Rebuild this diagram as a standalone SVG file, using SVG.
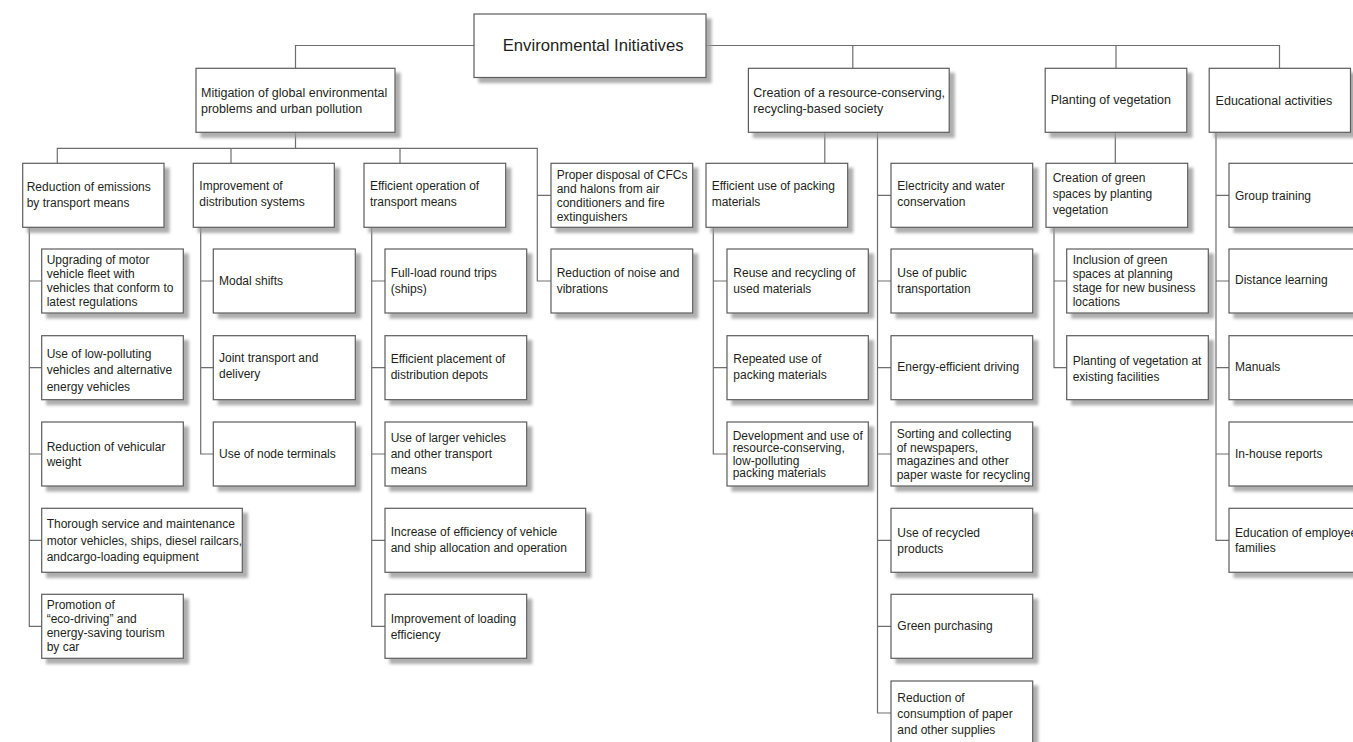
<svg xmlns="http://www.w3.org/2000/svg" width="1353" height="742" viewBox="0 0 1353 742">
  <defs>
    <filter id="sh" x="-10%" y="-10%" width="130%" height="140%">
      <feDropShadow dx="5" dy="5" stdDeviation="1.6" flood-color="#9a9a9a" flood-opacity="0.8"/>
    </filter>
  </defs>
  <style>
    .node rect { fill: #ffffff; stroke: #5c5c5c; stroke-width: 1.2; filter: url(#sh); }
    .node text { font-family: "Liberation Sans", Arial, sans-serif; font-size: 12px; fill: #231f20; }
    .node text.l1 { font-size: 12.5px; }
    .node text.root { font-size: 16.7px; }
    .links path { fill: none; stroke: #6e6e6e; stroke-width: 1.2; }
  </style>
  <rect width="1353" height="742" fill="#ffffff"/>

  <!-- connectors -->
  <g class="links">
    <!-- root to level 1 -->
    <path d="M474 45.5 H295.5 V68.3"/>
    <path d="M706 45.5 H1279.5 V68.3 M852.8 45.5 V68.3 M1116 45.5 V68.3"/>
    <!-- mitigation to its groups -->
    <path d="M295.5 132.3 V148.3 M57.3 163.3 V148.3 H537.3 V281 H551 M231 148.3 V163.3 M400 148.3 V163.3 M537.3 195.3 H551"/>
    <!-- reduction of emissions -->
    <path d="M29.3 227.3 V626.3 H41.7 M29.3 281 H41.7 M29.3 367.7 H41.7 M29.3 454 H41.7 M29.3 540.3 H41.7"/>
    <!-- distribution systems -->
    <path d="M200.7 227.3 V454 H213.3 M200.7 281 H213.3 M200.7 367.7 H213.3"/>
    <!-- efficient operation -->
    <path d="M371.7 227.3 V626.3 H385 M371.7 281 H385 M371.7 367.7 H385 M371.7 454 H385 M371.7 540.3 H385"/>
    <!-- resource-conserving society -->
    <path d="M824.8 132.3 V163.3"/>
    <path d="M877.5 132.3 V713 H891 M877.5 195.3 H891 M877.5 281 H891 M877.5 367.7 H891 M877.5 454 H891 M877.5 540.3 H891 M877.5 626.3 H891"/>
    <!-- packing materials -->
    <path d="M713.3 227.3 V454 H727 M713.3 281 H727 M713.3 367.7 H727"/>
    <!-- vegetation -->
    <path d="M1115.3 132.3 V163.3"/>
    <path d="M1054 227.3 V367.7 H1066.7 M1054 281 H1066.7"/>
    <!-- educational activities -->
    <path d="M1216 132.3 V540.3 H1229 M1216 195.3 H1229 M1216 281 H1229 M1216 367.7 H1229 M1216 454 H1229"/>
  </g>

  <!-- root -->
  <g id="root" class="node">
    <rect x="474" y="14" width="232" height="63.5"/>
    <text class="root" x="502.7" y="50.5">Environmental Initiatives</text>
  </g>

  <!-- level 1 -->
  <g id="mitigation" class="node">
    <rect x="196" y="68.3" width="199" height="64"/>
    <text class="l1"><tspan x="201" y="96.5">Mitigation of global environmental</tspan><tspan x="201" y="112.5">problems and urban pollution</tspan></text>
  </g>
  <g id="resource-society" class="node">
    <rect x="748.4" y="68.3" width="200.8" height="64"/>
    <text class="l1"><tspan x="753.3" y="96.5">Creation of a resource-conserving,</tspan><tspan x="753.3" y="112.5">recycling-based society</tspan></text>
  </g>
  <g id="planting" class="node">
    <rect x="1045.2" y="68.3" width="141.6" height="64"/>
    <text class="l1" x="1050.7" y="104">Planting of vegetation</text>
  </g>
  <g id="education" class="node">
    <rect x="1209.2" y="68.3" width="141.3" height="64"/>
    <text class="l1" x="1215.6" y="105">Educational activities</text>
  </g>

  <!-- level 2 -->
  <g id="emissions" class="node">
    <rect x="22.7" y="163.3" width="141.3" height="64"/>
    <text><tspan x="26.7" y="190.5">Reduction of emissions</tspan><tspan x="26.7" y="206.5">by transport means</tspan></text>
  </g>
  <g id="distribution" class="node">
    <rect x="193.3" y="163.3" width="141" height="64"/>
    <text><tspan x="199.3" y="190">Improvement of</tspan><tspan x="199.3" y="206">distribution systems</tspan></text>
  </g>
  <g id="efficient-operation" class="node">
    <rect x="364" y="163.3" width="141.7" height="64"/>
    <text><tspan x="370" y="189.5">Efficient operation of</tspan><tspan x="370" y="205.5">transport means</tspan></text>
  </g>
  <g id="cfc-disposal" class="node">
    <rect x="551" y="163.3" width="141.7" height="64"/>
    <text><tspan x="556.7" y="179.3">Proper disposal of CFCs</tspan><tspan x="556.7" y="193.3">and halons from air</tspan><tspan x="556.7" y="207.2">conditioners and fire</tspan><tspan x="556.7" y="221">extinguishers</tspan></text>
  </g>
  <g id="packing" class="node">
    <rect x="706" y="163.3" width="141.7" height="64"/>
    <text><tspan x="711.7" y="189.5">Efficient use of packing</tspan><tspan x="711.7" y="205.5">materials</tspan></text>
  </g>
  <g id="electricity" class="node">
    <rect x="891" y="163.3" width="141.7" height="64"/>
    <text><tspan x="897.3" y="190">Electricity and water</tspan><tspan x="897.3" y="206">conservation</tspan></text>
  </g>
  <g id="green-spaces" class="node">
    <rect x="1046" y="163.3" width="141.7" height="64"/>
    <text><tspan x="1052.7" y="181.5">Creation of green</tspan><tspan x="1052.7" y="197.5">spaces by planting</tspan><tspan x="1052.7" y="213.5">vegetation</tspan></text>
  </g>
  <g id="group-training" class="node">
    <rect x="1229" y="163.3" width="141.5" height="64"/>
    <text x="1235" y="200">Group training</text>
  </g>

  <!-- row 1 -->
  <g id="upgrading" class="node">
    <rect x="41.7" y="249" width="141.6" height="64"/>
    <text><tspan x="46.7" y="264">Upgrading of motor</tspan><tspan x="46.7" y="278">vehicle fleet with</tspan><tspan x="46.7" y="292">vehicles that conform to</tspan><tspan x="46.7" y="306">latest regulations</tspan></text>
  </g>
  <g id="modal-shifts" class="node">
    <rect x="213.3" y="249" width="142" height="64"/>
    <text x="219" y="284.5">Modal shifts</text>
  </g>
  <g id="full-load" class="node">
    <rect x="385" y="249" width="141.7" height="64"/>
    <text><tspan x="390.7" y="276.7">Full-load round trips</tspan><tspan x="390.7" y="292.7">(ships)</tspan></text>
  </g>
  <g id="noise" class="node">
    <rect x="551" y="249" width="141.7" height="64"/>
    <text><tspan x="556.7" y="277">Reduction of noise and</tspan><tspan x="556.7" y="293">vibrations</tspan></text>
  </g>
  <g id="reuse" class="node">
    <rect x="727" y="249" width="141.3" height="64"/>
    <text><tspan x="733.3" y="276.7">Reuse and recycling of</tspan><tspan x="733.3" y="292.5">used materials</tspan></text>
  </g>
  <g id="public-transport" class="node">
    <rect x="891" y="249" width="141.7" height="64"/>
    <text><tspan x="897.3" y="276.7">Use of public</tspan><tspan x="897.3" y="292.7">transportation</tspan></text>
  </g>
  <g id="inclusion" class="node">
    <rect x="1066.7" y="249" width="141.6" height="64"/>
    <text><tspan x="1072.7" y="263.5">Inclusion of green</tspan><tspan x="1072.7" y="277.8">spaces at planning</tspan><tspan x="1072.7" y="292">stage for new business</tspan><tspan x="1072.7" y="306">locations</tspan></text>
  </g>
  <g id="distance-learning" class="node">
    <rect x="1229" y="249" width="141.5" height="64"/>
    <text x="1235" y="284">Distance learning</text>
  </g>

  <!-- row 2 -->
  <g id="low-polluting" class="node">
    <rect x="41.7" y="335.7" width="141.6" height="64"/>
    <text><tspan x="46.7" y="358">Use of low-polluting</tspan><tspan x="46.7" y="374.4">vehicles and alternative</tspan><tspan x="46.7" y="390.7">energy vehicles</tspan></text>
  </g>
  <g id="joint-transport" class="node">
    <rect x="213.3" y="335.7" width="142" height="64"/>
    <text><tspan x="219" y="362">Joint transport and</tspan><tspan x="219" y="378">delivery</tspan></text>
  </g>
  <g id="depots" class="node">
    <rect x="385" y="335.7" width="141.7" height="64"/>
    <text><tspan x="390.7" y="363">Efficient placement of</tspan><tspan x="390.7" y="379">distribution depots</tspan></text>
  </g>
  <g id="repeated-use" class="node">
    <rect x="727" y="335.7" width="141.3" height="64"/>
    <text><tspan x="733.3" y="363.3">Repeated use of</tspan><tspan x="733.3" y="379.3">packing materials</tspan></text>
  </g>
  <g id="eco-driving" class="node">
    <rect x="891" y="335.7" width="141.7" height="64"/>
    <text x="897.3" y="371">Energy-efficient driving</text>
  </g>
  <g id="existing-facilities" class="node">
    <rect x="1066.7" y="335.7" width="141.6" height="64"/>
    <text><tspan x="1072.7" y="364.8">Planting of vegetation at</tspan><tspan x="1072.7" y="380.6">existing facilities</tspan></text>
  </g>
  <g id="manuals" class="node">
    <rect x="1229" y="335.7" width="141.5" height="64"/>
    <text x="1235" y="371">Manuals</text>
  </g>

  <!-- row 3 -->
  <g id="vehicle-weight" class="node">
    <rect x="41.7" y="422" width="141.6" height="64"/>
    <text><tspan x="46.7" y="450.5">Reduction of vehicular</tspan><tspan x="46.7" y="466.2">weight</tspan></text>
  </g>
  <g id="node-terminals" class="node">
    <rect x="213.3" y="422" width="142" height="64"/>
    <text x="219" y="457.5">Use of node terminals</text>
  </g>
  <g id="larger-vehicles" class="node">
    <rect x="385" y="422" width="141.7" height="64"/>
    <text><tspan x="390.7" y="441.8">Use of larger vehicles</tspan><tspan x="390.7" y="458.2">and other transport</tspan><tspan x="390.7" y="474.4">means</tspan></text>
  </g>
  <g id="packing-development" class="node">
    <rect x="727" y="422" width="141.3" height="64"/>
    <text><tspan x="732.7" y="440">Development and use of</tspan><tspan x="732.7" y="452.4">resource-conserving,</tspan><tspan x="732.7" y="464.7">low-polluting</tspan><tspan x="732.7" y="477">packing materials</tspan></text>
  </g>
  <g id="paper-sorting" class="node">
    <rect x="891" y="422" width="141.7" height="64"/>
    <text><tspan x="896.7" y="437.8">Sorting and collecting</tspan><tspan x="896.7" y="451.5">of newspapers,</tspan><tspan x="896.7" y="465.3">magazines and other</tspan><tspan x="896.7" y="479">paper waste for recycling</tspan></text>
  </g>
  <g id="inhouse-reports" class="node">
    <rect x="1229" y="422" width="141.5" height="64"/>
    <text x="1235" y="457.5">In-house reports</text>
  </g>

  <!-- row 4 -->
  <g id="maintenance" class="node">
    <rect x="41.7" y="508.3" width="200.6" height="64"/>
    <text><tspan x="46.7" y="528.3">Thorough service and maintenance</tspan><tspan x="46.7" y="544.5">motor vehicles, ships, diesel railcars,</tspan><tspan x="46.7" y="560.8">andcargo-loading equipment</tspan></text>
  </g>
  <g id="allocation" class="node">
    <rect x="385" y="508.3" width="200.7" height="64"/>
    <text><tspan x="390.7" y="536">Increase of efficiency of vehicle</tspan><tspan x="390.7" y="551.8">and ship allocation and operation</tspan></text>
  </g>
  <g id="recycled-products" class="node">
    <rect x="891" y="508.3" width="141.7" height="64"/>
    <text><tspan x="897.3" y="536.7">Use of recycled</tspan><tspan x="897.3" y="552.7">products</tspan></text>
  </g>
  <g id="family-education" class="node">
    <rect x="1229" y="508.3" width="141.5" height="64"/>
    <text><tspan x="1235" y="536.7">Education of employees’</tspan><tspan x="1235" y="552.4">families</tspan></text>
  </g>

  <!-- row 5 -->
  <g id="eco-tourism" class="node">
    <rect x="41.7" y="594.3" width="141.6" height="64"/>
    <text><tspan x="46.7" y="609.3">Promotion of</tspan><tspan x="46.7" y="623.3">“eco-driving” and</tspan><tspan x="46.7" y="637.2">energy-saving tourism</tspan><tspan x="46.7" y="651">by car</tspan></text>
  </g>
  <g id="loading" class="node">
    <rect x="385" y="594.3" width="141.7" height="64"/>
    <text><tspan x="390.7" y="622.7">Improvement of loading</tspan><tspan x="390.7" y="638.7">efficiency</tspan></text>
  </g>
  <g id="green-purchasing" class="node">
    <rect x="891" y="594.3" width="141.7" height="64"/>
    <text x="897.3" y="630">Green purchasing</text>
  </g>

  <!-- row 6 -->
  <g id="paper-reduction" class="node">
    <rect x="891" y="681" width="141.7" height="64"/>
    <text><tspan x="897.3" y="701.7">Reduction of</tspan><tspan x="897.3" y="718">consumption of paper</tspan><tspan x="897.3" y="734">and other supplies</tspan></text>
  </g>
</svg>
